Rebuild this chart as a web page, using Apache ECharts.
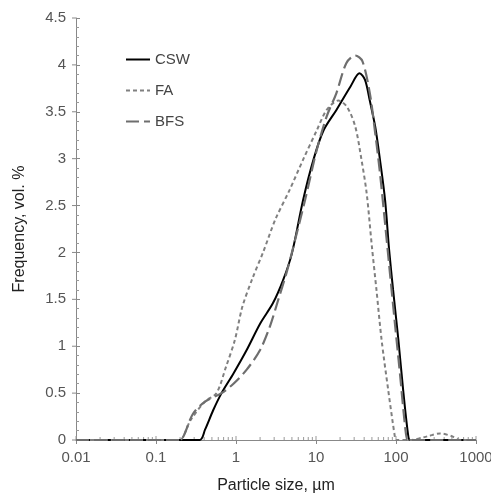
<!DOCTYPE html>
<html>
<head>
<meta charset="utf-8">
<script src="https://cdn.jsdelivr.net/npm/echarts@6/dist/echarts.min.js"></script>
<style>
  html, body { margin: 0; padding: 0; background: #fff; }
  #chart { width: 491px; height: 494px; }
</style>
</head>
<body>
<div id="chart"></div>
<script>
// particle size (µm) / frequency (vol.%) pairs
var cswSize = [0.01, 0.35, 0.41, 0.52, 0.66, 0.93, 1.36, 2.0, 2.9, 3.9, 5.0, 6.9, 9.3, 12.4, 18, 27, 35, 41, 47, 55, 63, 73, 82, 92, 107, 123, 142, 150, 156, 1000];
var cswFreq = [0, 0, 0.11, 0.32, 0.5, 0.71, 0.96, 1.24, 1.46, 1.71, 1.99, 2.56, 2.99, 3.3, 3.52, 3.77, 3.91, 3.84, 3.62, 3.34, 2.99, 2.56, 2.03, 1.6, 1.07, 0.53, 0.05, 0, 0, 0];

var faSize = [0.01, 0.19, 0.2, 0.27, 0.41, 0.57, 0.75, 0.97, 1.2, 1.6, 2.2, 3.1, 4.7, 6.9, 10.2, 13.6, 19, 24.5, 31, 37, 43, 50, 57, 66, 80, 97, 100, 150, 250, 355, 500, 630, 1000];
var faFreq = [0, 0, 0, 0.21, 0.41, 0.5, 0.78, 1.07, 1.42, 1.72, 2.01, 2.35, 2.67, 2.99, 3.3, 3.52, 3.62, 3.55, 3.34, 2.99, 2.63, 2.06, 1.6, 1.07, 0.53, 0.03, 0, 0, 0.04, 0.07, 0.04, 0, 0];

var bfsSize = [0.01, 0.19, 0.2, 0.29, 0.41, 0.66, 0.93, 1.36, 2.0, 2.65, 3.36, 4.27, 5.0, 7.3, 10.2, 13.6, 18, 24, 31, 38, 47, 55, 63, 73, 84, 97, 112, 130, 139, 145, 1000];
var bfsFreq = [0, 0, 0, 0.28, 0.41, 0.5, 0.6, 0.75, 0.96, 1.21, 1.49, 1.78, 2.0, 2.56, 3.09, 3.45, 3.7, 4.02, 4.1, 4.04, 3.7, 3.27, 2.85, 2.31, 1.78, 1.24, 0.71, 0.14, 0, 0, 0];

var xTicks = [0.01, 0.1, 1, 10, 100, 1000];
var minorMult = [2, 3, 4, 5, 6, 7, 8, 9];
var yTicks = [0, 0.5, 1, 1.5, 2, 2.5, 3, 3.5, 4, 4.5];

function pairs(xs, ys) {
    return xs.map(function (x, i) { return [x, ys[i]]; });
}

// tick marks along the x axis: [value, length] (decades cross the axis, 2..9 sit inside)
var xTickData = [];
xTicks.forEach(function (d, i) {
    xTickData.push([d, 4]);
    if (i < xTicks.length - 1) {
        minorMult.forEach(function (m) { xTickData.push([d * m, 3]); });
    }
});

var chart = echarts.init(document.getElementById('chart'));
var option = {
    animation: false,
    backgroundColor: '#fff',
    textStyle: { fontFamily: 'Liberation Sans, Arial, sans-serif' },
    grid: { left: 76, right: 15, top: 18, bottom: 54, containLabel: false, outerBoundsMode: 'none' },
    legend: {
        orient: 'vertical',
        left: 120,
        top: 47,
        itemWidth: 24,
        itemHeight: 10,
        itemGap: 16,
        itemStyle: { opacity: 0 },
        textStyle: { fontSize: 15, color: '#444' },
        data: ['CSW', 'FA', 'BFS']
    },
    xAxis: {
        type: 'log',
        logBase: 10,
        min: 0.01,
        max: 1000,
        name: 'Particle size, µm',
        nameLocation: 'middle',
        nameGap: 38,
        nameTextStyle: { fontSize: 16, color: '#222' },
        axisLine: { lineStyle: { color: '#888' } },
        axisTick: { show: true, length: 4, lineStyle: { color: '#888' } },
        splitLine: { show: false },
        axisLabel: {
            fontSize: 15,
            color: '#555',
            margin: 10,
            formatter: function (v) {
                var t = xTicks.filter(function (k) { return Math.abs(k - v) / k < 1e-6; });
                return t.length ? String(t[0]) : '';
            }
        }
    },
    yAxis: {
        type: 'value',
        min: 0,
        max: 4.5,
        interval: 0.5,
        name: 'Frequency, vol. %',
        nameLocation: 'middle',
        nameGap: 48,
        nameTextStyle: { fontSize: 16, color: '#222' },
        axisLine: { show: true, lineStyle: { color: '#888' } },
        axisTick: { show: true, inside: true, length: 4, lineStyle: { color: '#888' } },
        minorTick: { show: true, splitNumber: 5, length: 3, lineStyle: { color: '#999' } },
        splitLine: { show: false },
        axisLabel: { fontSize: 15, color: '#555', margin: 10 }
    },
    series: [
        {
            // inward ticks of the log x axis, placed through the axis scale
            name: 'xticks',
            type: 'custom',
            silent: true,
            z: 1,
            renderItem: function (params, api) {
                var p = api.coord([api.value(0), 0]);
                return {
                    type: 'line',
                    shape: { x1: p[0], y1: p[1], x2: p[0], y2: p[1] - api.value(1) },
                    style: { stroke: '#999', lineWidth: 1 }
                };
            },
            data: xTickData
        },
        {
            // outer half of the y major ticks
            name: 'yticks',
            type: 'custom',
            silent: true,
            z: 1,
            renderItem: function (params, api) {
                var p = api.coord([0.01, api.value(0)]);
                return {
                    type: 'line',
                    shape: { x1: p[0] - 4, y1: p[1], x2: p[0], y2: p[1] },
                    style: { stroke: '#888', lineWidth: 1 }
                };
            },
            data: yTicks.map(function (v) { return [v]; }),
            encode: { y: 0 }
        },
        {
            name: 'CSW',
            type: 'line',
            smooth: 0.3,
            symbol: 'none',
            lineStyle: { color: '#000', width: 2 },
            itemStyle: { color: '#000' },
            data: pairs(cswSize, cswFreq)
        },
        {
            name: 'FA',
            type: 'line',
            smooth: 0.3,
            symbol: 'none',
            lineStyle: { color: '#808080', width: 2, type: [4, 3] },
            itemStyle: { color: '#808080' },
            data: pairs(faSize, faFreq)
        },
        {
            name: 'BFS',
            type: 'line',
            smooth: 0.3,
            symbol: 'none',
            lineStyle: { color: '#6e6e6e', width: 2.2, type: [13, 5] },
            itemStyle: { color: '#6e6e6e' },
            data: pairs(bfsSize, bfsFreq)
        }
    ]
};
chart.setOption(option);
</script>
</body>
</html>
